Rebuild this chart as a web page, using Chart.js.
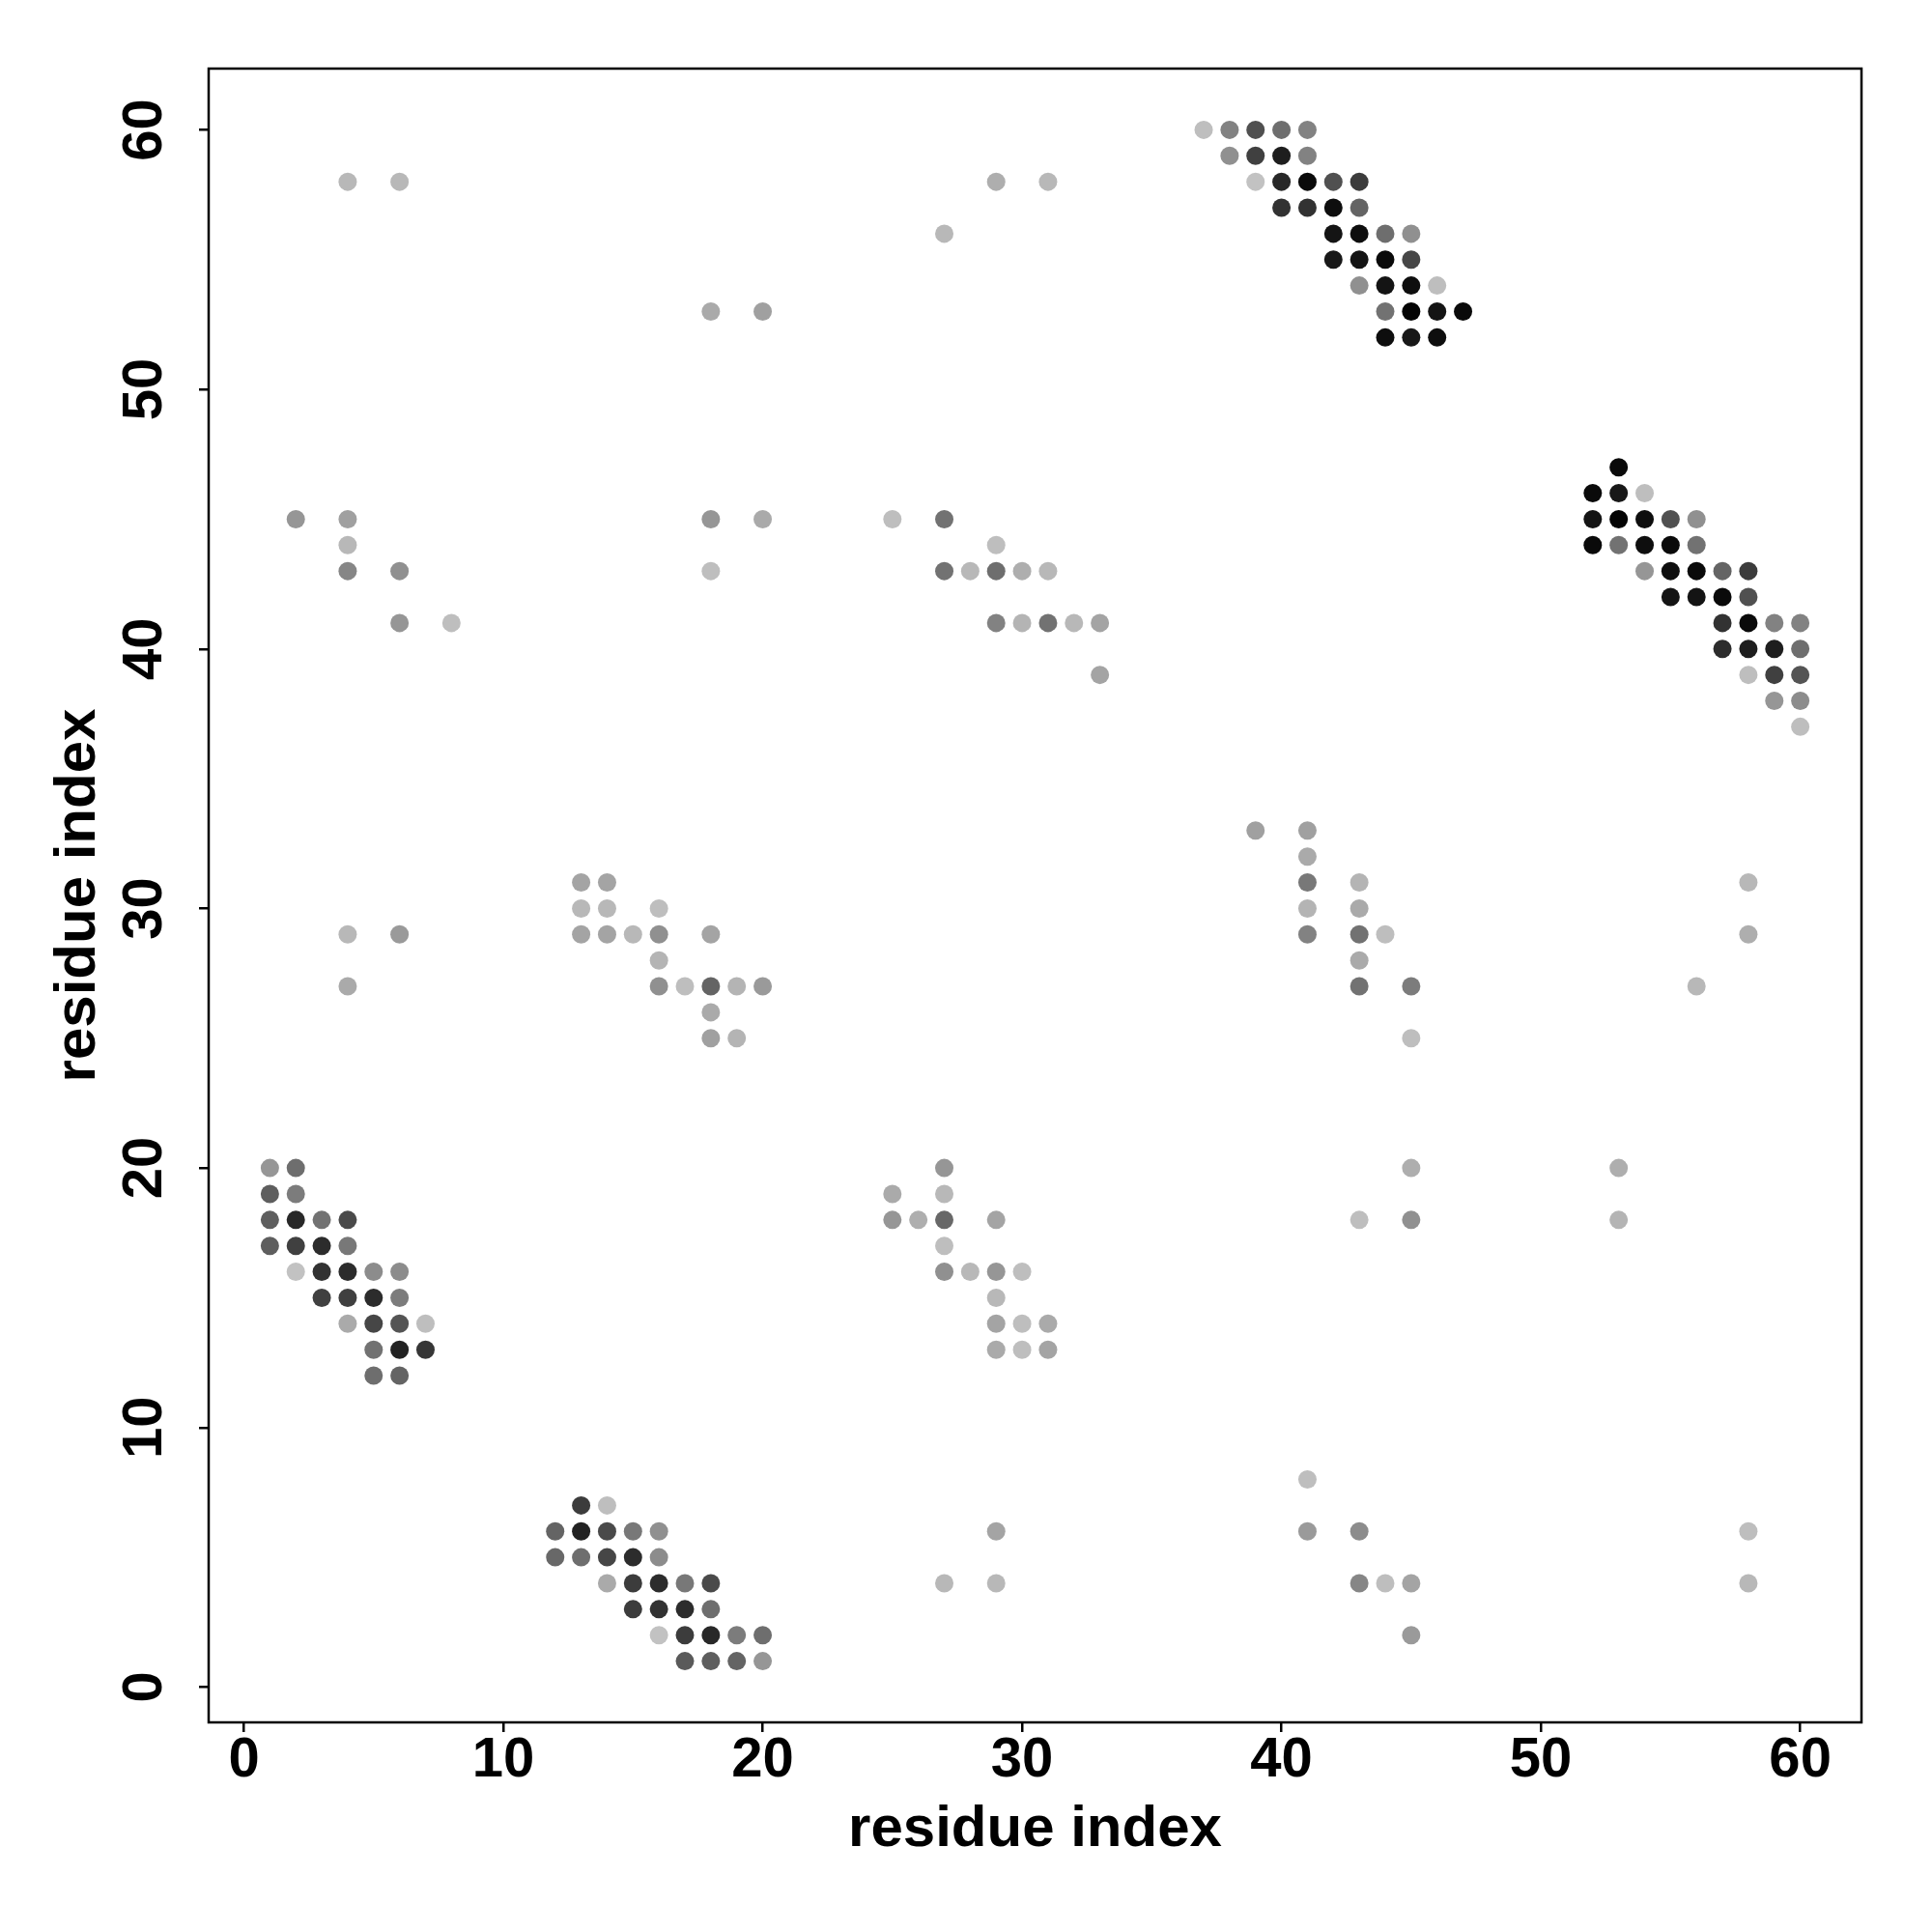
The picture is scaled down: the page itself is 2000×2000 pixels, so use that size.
<!DOCTYPE html>
<html>
<head>
<meta charset="utf-8">
<script src="https://cdn.jsdelivr.net/npm/chart.js@4.4.1/dist/chart.umd.min.js"></script>
<style>
  html, body { margin: 0; padding: 0; background: #fff; }
  canvas { display: block; }
</style>
</head>
<body>
<canvas id="contactMap" width="2000" height="2000" style="width:2000px;height:2000px"></canvas>
<script>
// contact map: residue i (x), residue j (y), contact score (0..1, darker = higher)
const resX = [
  1,2, 1,2, 1,2,3,4, 1,2,3,4, 2,3,4,5,6, 3,4,5,6, 4,5,6,7, 5,6,7, 5,6,
  13,14, 12,13,14,15,16, 12,13,14,15,16, 14,15,16,17,18, 15,16,17,18, 16,17,18,19,20, 17,18,19,20,
  37,38,39,40,41, 38,39,40,41, 39,40,41,42,43, 40,41,42,43, 42,43,44,45, 42,43,44,45, 43,44,45,46, 44,45,46,47, 44,45,46,
  53, 52,53,54, 52,53,54,55,56, 52,53,54,55,56, 54,55,56,57,58, 55,56,57,58, 57,58,59,60, 57,58,59,60, 58,59,60, 59,60, 60,
  2,4,4,4,6,6,8, 4,6,
  13,14, 13,14,16, 13,14,15,16,18, 16, 16,17,18,19,20, 18, 18,19,
  4,6,4, 18,20,18,18,20,
  27,29,31, 25,27, 29, 27,28,29,30,31, 29,30,31,32,33, 33,
  27, 25,27, 25,26,27,29, 27, 27,28,29,30, 29, 29,30,31, 29,30,31, 27,29,29,
  39,41,41,41,43,41,43,41,43,44,43,43,45,45, 45,45,43, 53,53,58,58,56,
  41,41,43,43,44,45,45,58,58
];
const resY = [
  20,20, 19,19, 18,18,18,18, 17,17,17,17, 16,16,16,16,16, 15,15,15,15, 14,14,14,14, 13,13,13, 12,12,
  7,7, 6,6,6,6,6, 5,5,5,5,5, 4,4,4,4,4, 3,3,3,3, 2,2,2,2,2, 1,1,1,1,
  60,60,60,60,60, 59,59,59,59, 58,58,58,58,58, 57,57,57,57, 56,56,56,56, 55,55,55,55, 54,54,54,54, 53,53,53,53, 52,52,52,
  47, 46,46,46, 45,45,45,45,45, 44,44,44,44,44, 43,43,43,43,43, 42,42,42,42, 41,41,41,41, 40,40,40,40, 39,39,39, 38,38, 37,
  45,45,44,43,43,41,41, 58,58,
  31,31, 30,30,30, 29,29,29,29,29, 28, 27,27,27,27,27, 26, 25,25,
  29,29,27, 53,53,45,43,45,
  56,58,58, 45,45, 44, 43,43,43,43,43, 41,41,41,41,41, 39,
  20, 19,19, 18,18,18,18, 17, 16,16,16,16, 15, 14,14,14, 13,13,13, 4,6,4,
  33,33,32,31,31,30,30,29,29,29,28,27,27,25, 20,18,18, 20,18,31,29,27,
  8,6,6,4,4,4,2,6,4
];
const score = [
  .25,.45, .53,.38, .53,.80,.43,.63, .53,.68,.78,.40, .03,.75,.78,.30,.30, .68,.68,.78,.38, .15,.65,.58,.05, .43,.83,.73, .45,.50,
  .70,.05, .50,.83,.63,.40,.28, .48,.45,.65,.78,.30, .15,.70,.78,.40,.63, .70,.75,.78,.45, .03,.70,.80,.38,.45, .55,.53,.50,.25,
  .05,.35,.60,.45,.35, .28,.68,.85,.35, .03,.80,.95,.60,.70, .75,.75,.93,.50, .90,.93,.45,.28, .88,.90,.95,.65, .28,.90,.93,.05, .43,.98,.90,.95, .93,.88,.93,
  .95, .95,.88,.05, .90,.98,.93,.60,.28, .95,.43,.93,.95,.43, .25,.93,.95,.50,.70, .90,.90,.95,.60, .75,.95,.35,.35, .78,.85,.85,.45, .05,.68,.58, .25,.30, .05,
  .25,.20,.08,.33,.28,.25,.05, .08,.08,
  .18,.18, .08,.08,.05, .18,.18,.08,.28,.18, .10, .28,.05,.50,.10,.23, .15, .20,.10,
  .08,.23,.15, .15,.20,.25,.05,.15,
  .08,.13,.08, .05,.43, .05, .43,.08,.45,.13,.08, .35,.10,.43,.08,.18, .18,
  .25, .15,.08, .25,.13,.48,.18, .05, .28,.08,.25,.05, .08, .18,.05,.15, .15,.05,.18, .08,.18,.08,
  .20,.20,.15,.40,.10,.10,.15,.35,.43,.05,.15,.43,.38,.05, .13,.28,.05, .13,.10,.08,.13,.08,
  .05,.23,.30,.33,.05,.18,.23,.05,.08
];
const tickVals = [0, 10, 20, 30, 40, 50, 60];
const xTitle = 'residue index';
const yTitle = 'residue index';

const points = resX.map((x, i) => ({ x: x, y: resY[i] }));
const grayOf = s => { const g = Math.round(200 * (1 - s)); return `rgb(${g},${g},${g})`; };
const FAMILY = '"Liberation Sans", Arial, Helvetica, sans-serif';
const TICK_FONT = 'bold 58px ' + FAMILY;
const TITLE_FONT = 'bold 60px ' + FAMILY;

const frameText = {
  id: 'frameText',
  afterDraw(chart) {
    const ctx = chart.ctx, a = chart.chartArea;
    const xs = chart.scales.x, ys = chart.scales.y;
    ctx.save();
    ctx.strokeStyle = '#000';
    ctx.lineWidth = 2.5;
    ctx.strokeRect(a.left, a.top, a.right - a.left, a.bottom - a.top);
    ctx.fillStyle = '#000';
    ctx.textAlign = 'center';
    ctx.textBaseline = 'alphabetic';
    ctx.font = TICK_FONT;
    tickVals.forEach(v => {
      ctx.fillText(String(v), xs.getPixelForValue(v), 1839);
    });
    tickVals.forEach(v => {
      ctx.save();
      ctx.translate(167, ys.getPixelForValue(v));
      ctx.rotate(-Math.PI / 2);
      ctx.fillText(String(v), 0, 0);
      ctx.restore();
    });
    ctx.font = TITLE_FONT;
    ctx.fillText(xTitle, (a.left + a.right) / 2, 1911);
    ctx.save();
    ctx.translate(98, (a.top + a.bottom) / 2);
    ctx.rotate(-Math.PI / 2);
    ctx.fillText(yTitle, 0, 0);
    ctx.restore();
    ctx.restore();
  }
};

const setTicks = scale => { scale.ticks = tickVals.map(v => ({ value: v })); };
const axisGrid = { drawOnChartArea: false, drawTicks: true, tickLength: 10, color: '#000', lineWidth: 2.5 };

new Chart(document.getElementById('contactMap').getContext('2d'), {
  type: 'scatter',
  data: {
    datasets: [{
      data: points,
      pointRadius: 9.5,
      pointHoverRadius: 9.5,
      borderWidth: 0,
      pointBorderWidth: 0,
      backgroundColor: c => grayOf(score[c.dataIndex]),
      pointBackgroundColor: c => grayOf(score[c.dataIndex])
    }]
  },
  options: {
    responsive: false,
    animation: false,
    devicePixelRatio: 1,
    events: [],
    layout: { padding: { left: 0, top: 71, right: 73, bottom: 0 } },
    plugins: { legend: { display: false }, tooltip: { enabled: false } },
    scales: {
      x: {
        type: 'linear', position: 'bottom', min: -1.36, max: 62.36,
        afterBuildTicks: setTicks,
        afterFit: s => { s.height = 217; },
        ticks: { display: false },
        grid: axisGrid,
        border: { display: false }
      },
      y: {
        type: 'linear', position: 'left', min: -1.36, max: 62.36,
        afterBuildTicks: setTicks,
        afterFit: s => { s.width = 216; },
        ticks: { display: false },
        grid: axisGrid,
        border: { display: false }
      }
    }
  },
  plugins: [frameText]
});
</script>
</body>
</html>
